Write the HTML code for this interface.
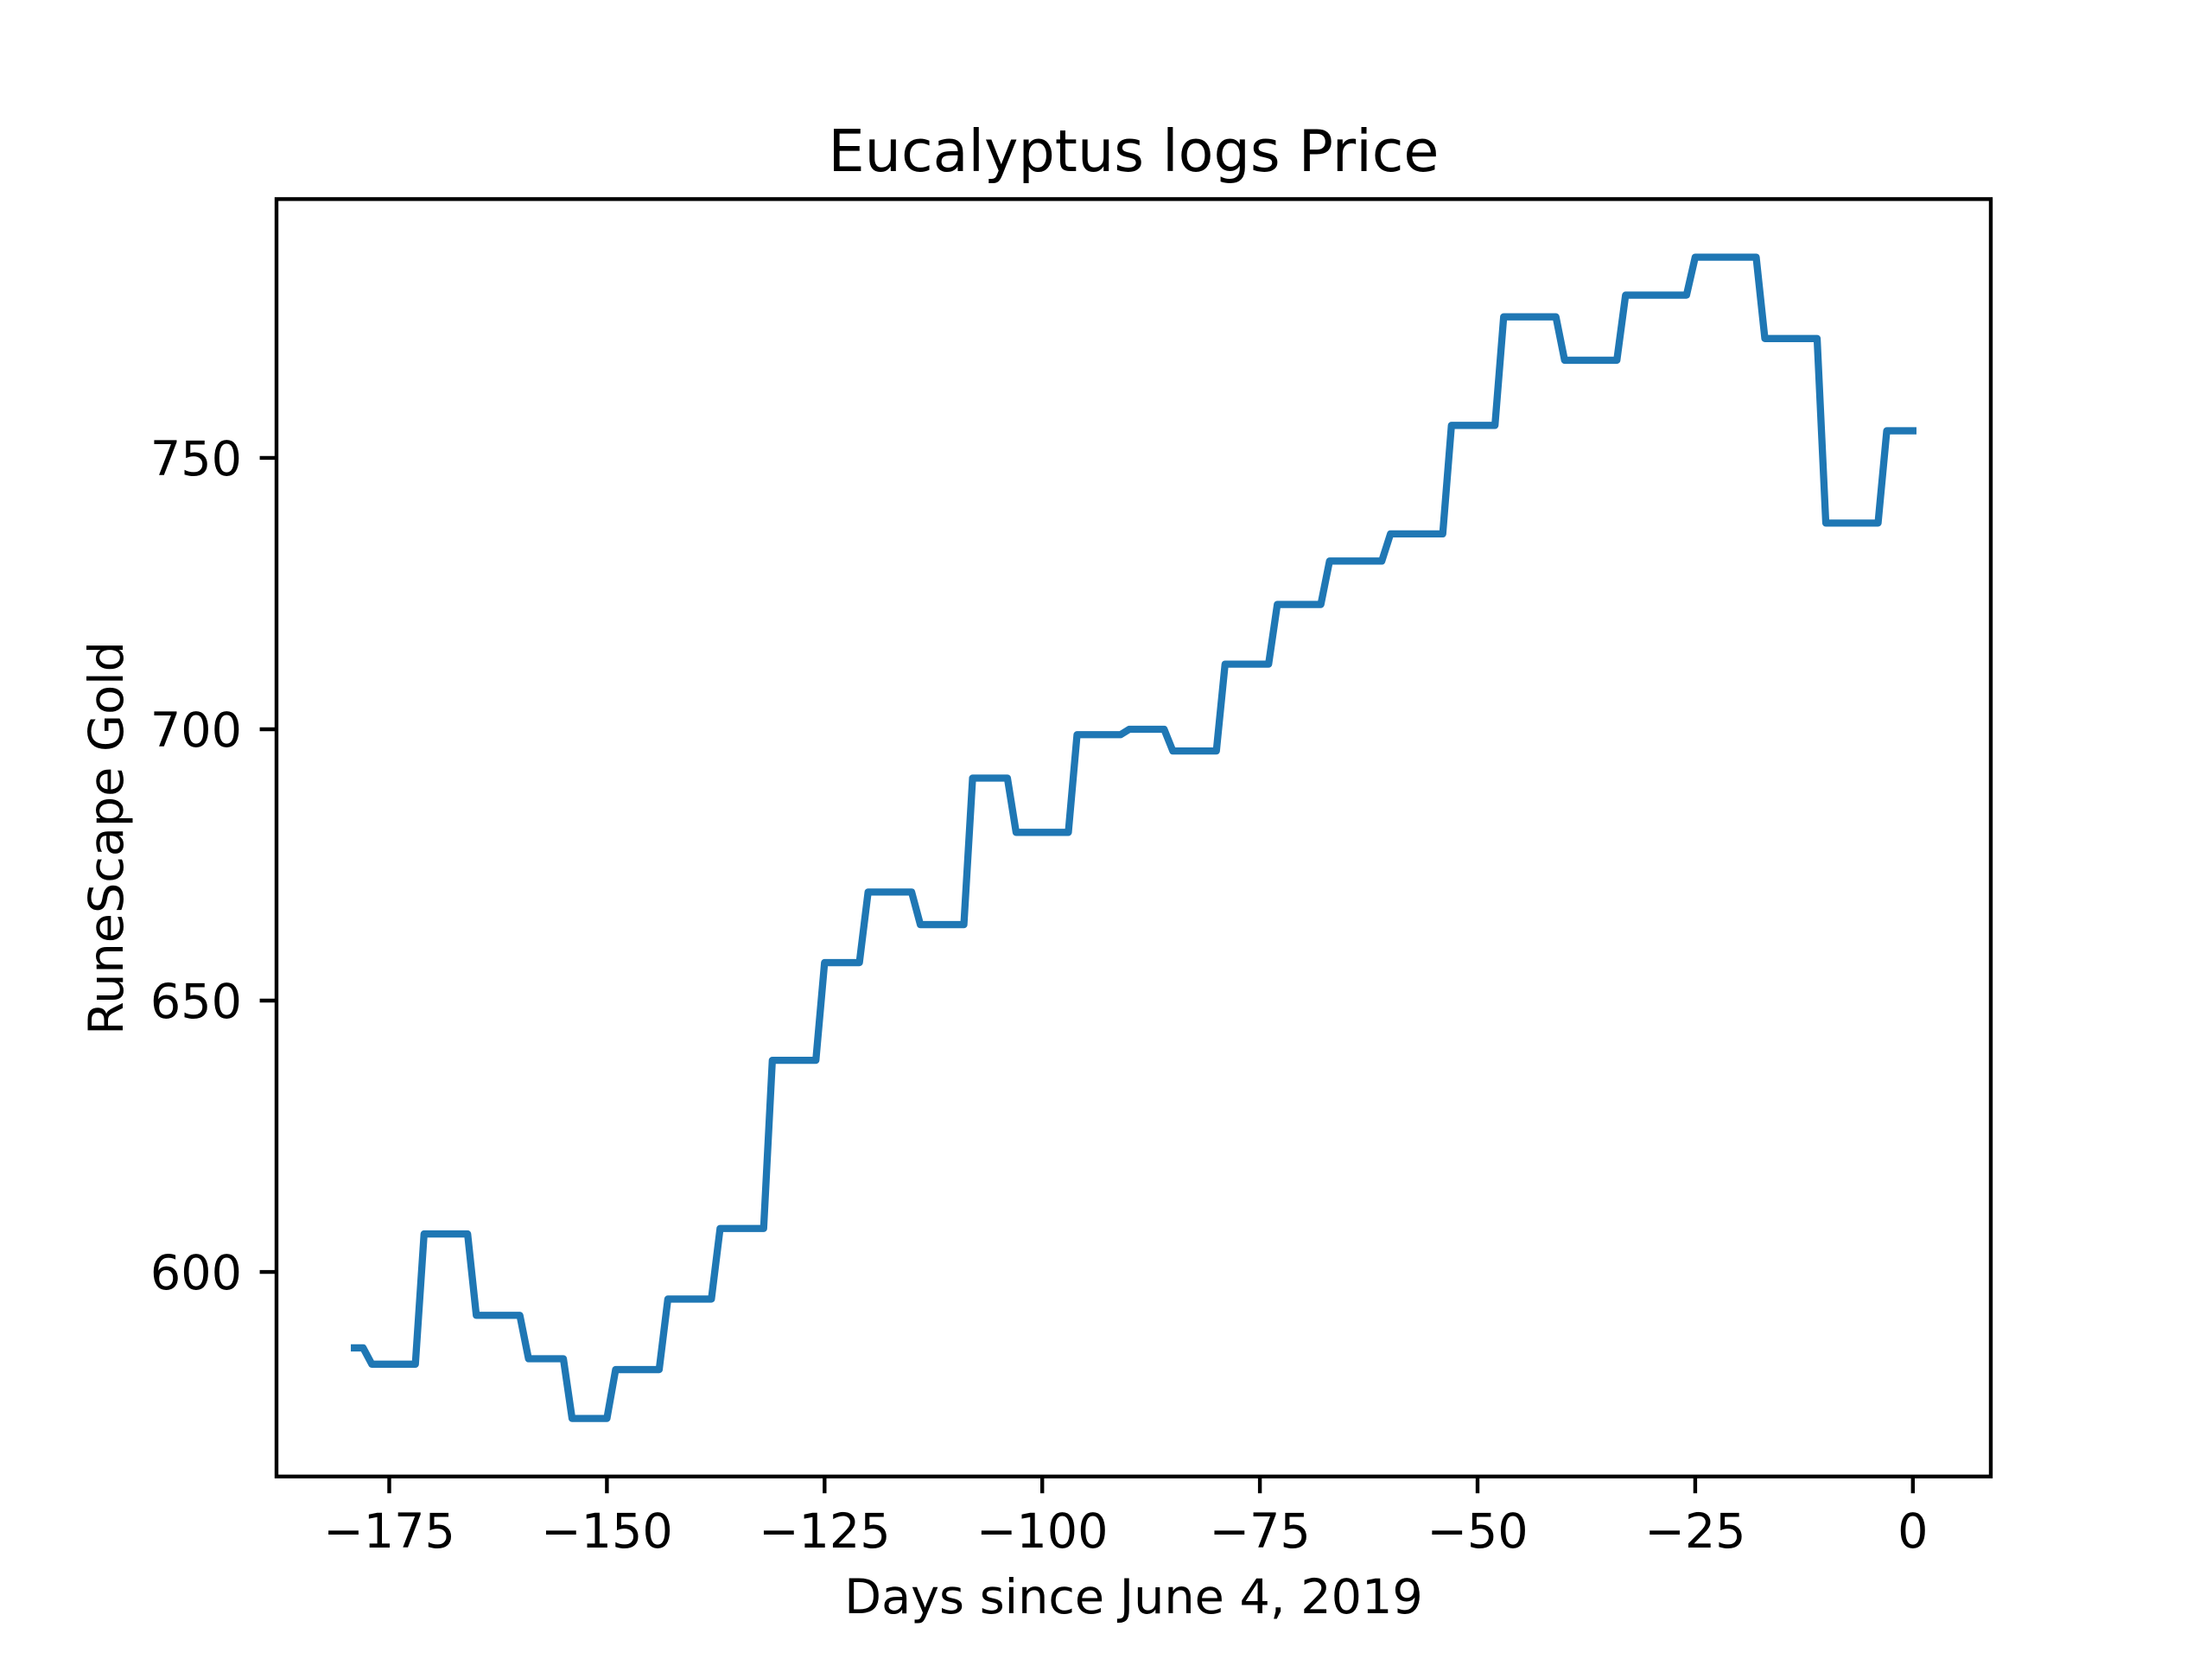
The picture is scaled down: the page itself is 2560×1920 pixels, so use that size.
<!DOCTYPE html>
<html><head><meta charset="utf-8"><style>
html,body{margin:0;padding:0;background:#fff;}
svg{display:block;font-family:"DejaVu Sans","Liberation Sans",sans-serif;}
</style></head><body>
<svg id="chart" width="2560" height="1920" viewBox="0 0 2560 1920" xmlns="http://www.w3.org/2000/svg">
<rect width="2560" height="1920" fill="#fff"/>
<text x="1312" y="198" font-size="66.7" text-anchor="middle" fill="#000">Eucalyptus logs Price</text>
<text x="1312" y="1867" font-size="55.6" text-anchor="middle" fill="#000">Days since June 4, 2019</text>
<text x="0" y="0" font-size="55.6" text-anchor="middle" fill="#000" transform="translate(142,970) rotate(-90)">RuneScape Gold</text>
<g id="ticks"></g>
<polyline id="series" fill="none" stroke="#1f77b4" stroke-width="8.3" stroke-linejoin="round" stroke-linecap="square"/>
<rect x="320" y="230.4" width="1984" height="1478.4" fill="none" stroke="#000" stroke-width="4.4"/>
</svg>
<script>
const xTicks = [-175, -150, -125, -100, -75, -50, -25, 0];
const yTicks = [600, 650, 700, 750];
const startDay = -179;
const prices = [586,586,
583,583,583,583,583,583,
607,607,607,607,607,607,
592,592,592,592,592,592,
584,584,584,584,584,
573,573,573,573,573,
582,582,582,582,582,582,
595,595,595,595,595,595,
608,608,608,608,608,608,
639,639,639,639,639,639,
657,657,657,657,657,
670,670,670,670,670,670,
664,664,664,664,664,664,
691,691,691,691,691,
681,681,681,681,681,681,681,
699,699,699,699,699,699,
700,700,700,700,700,
696,696,696,696,696,696,
712,712,712,712,712,712,
723,723,723,723,723,723,
731,731,731,731,731,731,731,
736,736,736,736,736,736,736,
756,756,756,756,756,756,
776,776,776,776,776,776,776,
768,768,768,768,768,768,768,
780,780,780,780,780,780,780,780,
787,787,787,787,787,787,787,787,
772,772,772,772,772,772,772,
738,738,738,738,738,738,738,
755,755,755,755];

const days = prices.map((_, i) => startDay + i);
const L = 320, R = 2304, T = 230.4, B = 1708.8;
const xmin0 = Math.min(...days), xmax0 = Math.max(...days);
const xm = (xmax0 - xmin0) * 0.05;
const ymin0 = Math.min(...prices), ymax0 = Math.max(...prices);
const ym = (ymax0 - ymin0) * 0.05;
const xS = v => L + (v - (xmin0 - xm)) / ((xmax0 + xm) - (xmin0 - xm)) * (R - L);
const yS = v => B - (v - (ymin0 - ym)) / ((ymax0 + ym) - (ymin0 - ym)) * (B - T);

document.getElementById('series').setAttribute('points', days.map((d, i) => xS(d) + ',' + yS(prices[i])).join(' '));

const NS = 'http://www.w3.org/2000/svg';
const g = document.getElementById('ticks');
xTicks.forEach(t => {
  const x = xS(t);
  const ln = document.createElementNS(NS, 'line');
  ln.setAttribute('x1', x); ln.setAttribute('x2', x);
  ln.setAttribute('y1', B); ln.setAttribute('y2', B + 19.4);
  ln.setAttribute('stroke', '#000'); ln.setAttribute('stroke-width', '4.4');
  
  
  g.appendChild(ln);
  const tx = document.createElementNS(NS, 'text');
  tx.setAttribute('x', x); tx.setAttribute('y', B + 82);
  tx.setAttribute('font-size', '55.6'); tx.setAttribute('text-anchor', 'middle');
  tx.textContent = t < 0 ? '\u2212' + Math.abs(t) : String(t);
  
  
  g.appendChild(tx);
});
yTicks.forEach(t => {
  const y = yS(t);
  const ln = document.createElementNS(NS, 'line');
  ln.setAttribute('x1', L - 19.4); ln.setAttribute('x2', L);
  ln.setAttribute('y1', y); ln.setAttribute('y2', y);
  ln.setAttribute('stroke', '#000'); ln.setAttribute('stroke-width', '4.4');
  
  
  g.appendChild(ln);
  const tx = document.createElementNS(NS, 'text');
  tx.setAttribute('x', L - 40); tx.setAttribute('y', y + 20);
  tx.setAttribute('font-size', '55.6'); tx.setAttribute('text-anchor', 'end');
  tx.textContent = String(t);
  
  
  g.appendChild(tx);
});
</script>
</body></html>
